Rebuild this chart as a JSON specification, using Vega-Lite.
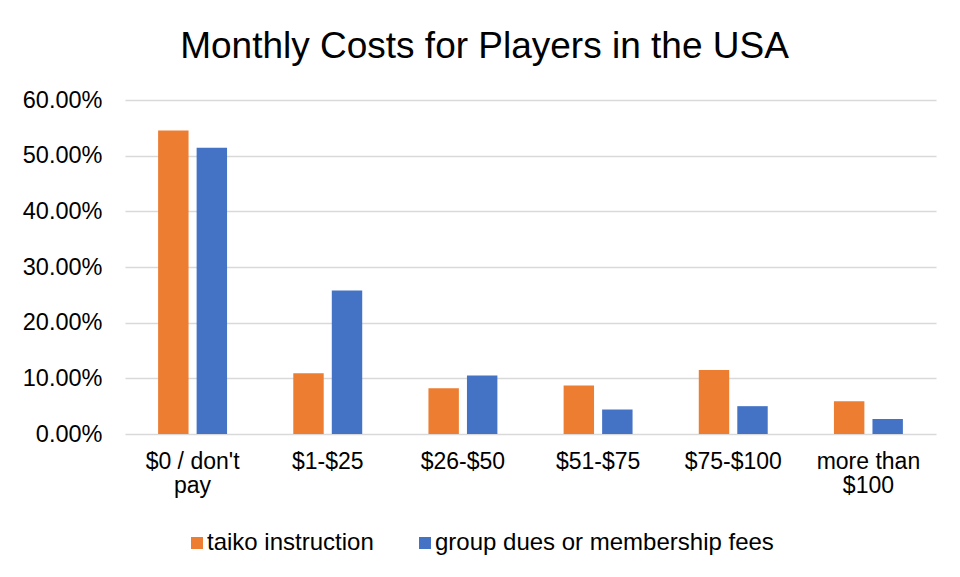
{
  "$schema": "https://vega.github.io/schema/vega-lite/v6.json",
  "width": 811,
  "height": 334,
  "autosize": {"type": "none"},
  "padding": {"left": 125, "top": 100, "right": 24, "bottom": 143},
  "background": "white",
  "title": {
    "text": "Monthly Costs for Players in the USA",
    "font": "Liberation Sans",
    "fontSize": 37,
    "fontWeight": "normal",
    "color": "#000000",
    "anchor": "middle",
    "frame": "group",
    "baseline": "alphabetic",
    "offset": -7,
    "dx": -46
  },
  "data": {
    "values": [
      {"cost": "$0 / don't pay", "type": "taiko instruction", "pct": 0.545},
      {"cost": "$0 / don't pay", "type": "group dues or membership fees", "pct": 0.514},
      {"cost": "$1-$25", "type": "taiko instruction", "pct": 0.109},
      {"cost": "$1-$25", "type": "group dues or membership fees", "pct": 0.258},
      {"cost": "$26-$50", "type": "taiko instruction", "pct": 0.082},
      {"cost": "$26-$50", "type": "group dues or membership fees", "pct": 0.105},
      {"cost": "$51-$75", "type": "taiko instruction", "pct": 0.087},
      {"cost": "$51-$75", "type": "group dues or membership fees", "pct": 0.044},
      {"cost": "$75-$100", "type": "taiko instruction", "pct": 0.115},
      {"cost": "$75-$100", "type": "group dues or membership fees", "pct": 0.050},
      {"cost": "more than $100", "type": "taiko instruction", "pct": 0.059},
      {"cost": "more than $100", "type": "group dues or membership fees", "pct": 0.027}
    ]
  },
  "mark": {"type": "bar"},
  "encoding": {
    "x": {
      "field": "cost",
      "type": "nominal",
      "sort": null,
      "scale": {"paddingInner": 0.49, "paddingOuter": 0.245},
      "axis": {
        "title": null,
        "labelAngle": 0,
        "domain": false,
        "ticks": false,
        "labelPadding": 16,
        "labelFontSize": 23,
        "labelLineHeight": 24,
        "labelLimit": 0,
        "labelExpr": "datum.value == \"$0 / don't pay\" ? [\"$0 / don't\", 'pay'] : datum.value == 'more than $100' ? ['more than', '$100'] : datum.value"
      }
    },
    "xOffset": {
      "field": "type",
      "type": "nominal",
      "sort": ["taiko instruction", "group dues or membership fees"],
      "scale": {"paddingInner": 0.21, "paddingOuter": 0}
    },
    "y": {
      "field": "pct",
      "type": "quantitative",
      "scale": {"domain": [0, 0.6], "nice": false},
      "axis": {
        "title": null,
        "format": ".2%",
        "values": [0, 0.1, 0.2, 0.3, 0.4, 0.5, 0.6],
        "domain": false,
        "ticks": false,
        "labelPadding": 23,
        "labelFontSize": 23.5,
        "gridColor": "#d9d9d9",
        "gridWidth": 1.5
      }
    },
    "color": {
      "field": "type",
      "type": "nominal",
      "sort": ["taiko instruction", "group dues or membership fees"],
      "scale": {
        "domain": ["taiko instruction", "group dues or membership fees"],
        "range": ["#ED7D31", "#4472C4"]
      },
      "legend": {
        "title": null,
        "orient": "none",
        "direction": "horizontal",
        "legendX": 60,
        "legendY": 431,
        "padding": 0,
        "symbolType": "square",
        "symbolSize": 144,
        "symbolStrokeWidth": 0,
        "labelFontSize": 24,
        "labelOffset": -2,
        "labelLimit": 0,
        "columnPadding": 39
      }
    }
  },
  "config": {
    "font": "Liberation Sans",
    "view": {"stroke": null},
    "axis": {"labelColor": "#000000", "labelFont": "Liberation Sans"},
    "legend": {"labelColor": "#000000", "labelFont": "Liberation Sans"}
  }
}
